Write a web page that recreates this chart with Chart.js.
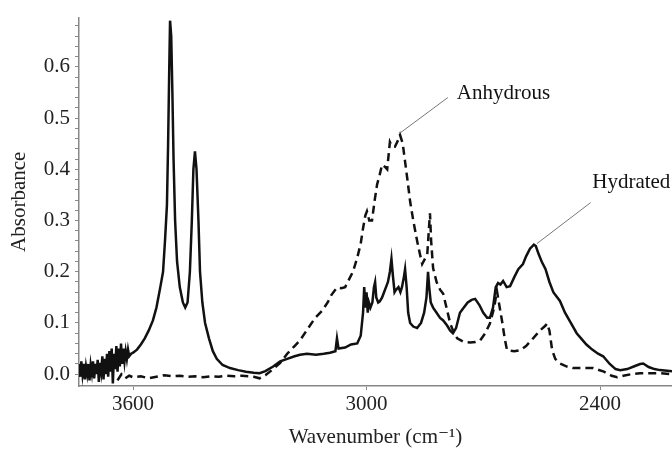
<!DOCTYPE html>
<html lang="en">
<head>
    <meta charset="UTF-8">
    <title>IR spectra - hydrated vs anhydrous</title>
    <style>
        html, body { margin: 0; padding: 0; background: #fff; }
        #wrap { width: 672px; height: 452px; position: relative; }
    </style>
    <script src="https://cdn.jsdelivr.net/npm/chart.js"></script>
</head>
<body>
<div id="wrap"><canvas id="spectrum" width="672" height="452"></canvas></div>

<script>
    // Hydrated (solid line)
    const hydratedWn = [3739, 3736, 3733, 3730, 3727, 3724, 3721, 3718, 3715, 3712, 3709, 3706, 3703, 3700, 3697, 3694, 3691, 3688, 3685, 3682,
        3679, 3676, 3673, 3670, 3667, 3664, 3661, 3658, 3655, 3652, 3649, 3646, 3643, 3640, 3637, 3634, 3631, 3628, 3625, 3622,
        3619, 3616, 3613, 3610, 3605, 3600, 3590, 3580, 3570, 3560, 3549, 3540,
        3530, 3523, 3518, 3513, 3510, 3507, 3505, 3502, 3499, 3496, 3492, 3487, 3480, 3472, 3466, 3460, 3454, 3449, 3445, 3441,
        3437, 3432, 3428, 3422, 3415, 3405, 3395, 3385, 3370, 3351, 3330, 3310, 3290, 3275, 3260, 3240, 3222, 3204, 3185, 3171,
        3153, 3130, 3110, 3094, 3080, 3076, 3072, 3055, 3040, 3024, 3015, 3009, 3006, 3003, 3000, 2997, 2994, 2990, 2985, 2981,
        2978, 2975, 2970, 2966, 2960, 2955, 2950, 2945, 2940, 2936, 2932, 2928, 2924, 2918, 2913, 2909, 2904, 2901, 2897, 2893,
        2888, 2880, 2870, 2860, 2852, 2846, 2842, 2839, 2835, 2829, 2820, 2811, 2803, 2793, 2785, 2778, 2770, 2760, 2750, 2740,
        2730, 2721, 2710, 2700, 2690, 2683, 2675, 2668, 2662, 2656, 2649, 2640, 2631, 2620, 2610, 2598, 2590, 2580, 2570, 2565,
        2558, 2550, 2540, 2530, 2520, 2503, 2490, 2475, 2460, 2451, 2435, 2420, 2405, 2392, 2375, 2360, 2348, 2330, 2310, 2297,
        2289, 2275, 2260, 2246, 2215];
    const hydratedAbs = [0.02, -0.005, 0.025, 0.0, 0.02, -0.01, 0.015, 0.0, 0.02, -0.012, 0.018, 0.002, 0.025, -0.008, 0.02, 0.0, 0.028, -0.015, 0.022, 0.005,
        0.035, -0.01, 0.03, 0.0, 0.04, -0.005, 0.045, 0.005, 0.05, -0.018, 0.04, 0.01, 0.055, 0.005, 0.05, 0.015, 0.06, 0.02, 0.05, 0.025,
        0.045, 0.03, 0.048, 0.035, 0.04, 0.042, 0.048, 0.058, 0.07, 0.085, 0.105, 0.13,
        0.17, 0.2, 0.26, 0.33, 0.45, 0.6, 0.69, 0.66, 0.55, 0.42, 0.3, 0.22, 0.17, 0.14, 0.13, 0.14, 0.2, 0.3, 0.4, 0.435,
        0.4, 0.3, 0.2, 0.14, 0.1, 0.07, 0.045, 0.03, 0.018, 0.012, 0.008, 0.005, 0.003, 0.002, 0.006, 0.015, 0.025, 0.03, 0.035, 0.038,
        0.04, 0.038, 0.04, 0.042, 0.045, 0.07, 0.05, 0.052, 0.058, 0.06, 0.075, 0.12, 0.17, 0.13, 0.16, 0.12, 0.14, 0.13, 0.14, 0.17,
        0.18, 0.15, 0.14, 0.142, 0.15, 0.16, 0.17, 0.18, 0.2, 0.225, 0.19, 0.16, 0.165, 0.17, 0.16, 0.17, 0.19, 0.205, 0.17, 0.12,
        0.1, 0.093, 0.09, 0.1, 0.12, 0.15, 0.2, 0.17, 0.14, 0.13, 0.12, 0.11, 0.105, 0.095, 0.085, 0.08, 0.09, 0.12, 0.13, 0.14,
        0.145, 0.147, 0.135, 0.12, 0.11, 0.11, 0.13, 0.17, 0.178, 0.175, 0.182, 0.17, 0.172, 0.19, 0.205, 0.215, 0.23, 0.245, 0.253, 0.25,
        0.235, 0.22, 0.205, 0.18, 0.16, 0.143, 0.12, 0.1, 0.08, 0.072, 0.058, 0.048, 0.04, 0.035, 0.02, 0.01, 0.008, 0.01, 0.016, 0.02,
        0.021, 0.014, 0.01, 0.008, 0.006];

    // Anhydrous (dashed line)
    const anhydrousWn = [3640, 3630, 3620, 3610, 3600, 3580, 3560, 3540, 3520, 3500, 3480, 3460, 3440, 3420, 3400,
        3380, 3360, 3340, 3320, 3300, 3290, 3275, 3260, 3240, 3222, 3204, 3185, 3171, 3150, 3132, 3114, 3100, 3090, 3076, 3065,
        3055, 3045, 3035, 3024, 3015, 3009, 3003, 2999, 2993, 2986, 2979, 2973, 2966, 2960, 2953, 2947, 2940, 2935, 2927, 2920,
        2914, 2907, 2901, 2895, 2888, 2880, 2870, 2863, 2857, 2850, 2844, 2840, 2837, 2834, 2829, 2820, 2811, 2803, 2793, 2785,
        2775, 2767, 2750, 2734, 2720, 2708, 2695, 2683, 2672, 2665, 2660, 2652, 2645, 2639, 2620, 2605, 2590, 2572, 2555, 2540,
        2536, 2530, 2523, 2515, 2503, 2485, 2469, 2440, 2418, 2390, 2370, 2356, 2340, 2320, 2297, 2270, 2246, 2215];
    const anhydrousAbs = [-0.012, 0.0, -0.008, -0.003, -0.006, -0.004, -0.008, -0.005, -0.002, -0.004, -0.003, -0.005, -0.004, -0.006, -0.004,
        -0.005, -0.003, -0.004, -0.003, -0.004, -0.005, -0.008, -0.002, 0.01, 0.022, 0.04, 0.055, 0.066, 0.09, 0.11, 0.124, 0.14, 0.155, 0.169, 0.168,
        0.17, 0.185, 0.2, 0.227, 0.255, 0.285, 0.31, 0.318, 0.3, 0.3, 0.34, 0.37, 0.39, 0.409, 0.405, 0.4, 0.453, 0.445, 0.444, 0.455,
        0.467, 0.45, 0.415, 0.38, 0.337, 0.3, 0.26, 0.235, 0.215, 0.225, 0.234, 0.28, 0.314, 0.26, 0.207, 0.18, 0.165, 0.157, 0.125, 0.099,
        0.08, 0.07, 0.063, 0.062, 0.063, 0.066, 0.08, 0.099, 0.13, 0.163, 0.14, 0.105, 0.07, 0.047, 0.045, 0.047, 0.055, 0.07, 0.085, 0.095,
        0.099, 0.085, 0.047, 0.03, 0.021, 0.015, 0.012, 0.012, 0.012, 0.005, -0.003, -0.006, -0.003, 0.0, 0.002, 0.002, 0.002, 0.0];

    const xTickValues = [3600, 3000, 2400];
    const yTickValues = [0, 0.02, 0.04, 0.06, 0.08, 0.1, 0.12, 0.14, 0.16, 0.18, 0.2, 0.22, 0.24, 0.26, 0.28, 0.3, 0.32, 0.34,
        0.36, 0.38, 0.4, 0.42, 0.44, 0.46, 0.48, 0.5, 0.52, 0.54, 0.56, 0.58, 0.6, 0.62, 0.64, 0.66, 0.68];

    // callout labels: text anchor and leader line, in data units
    const callouts = [
        { text: 'Anhydrous', textAt: [2768, 0.547], from: [2791, 0.54], to: [2917, 0.469] },
        { text: 'Hydrated', textAt: [2420, 0.375], from: [2424, 0.335], to: [2562, 0.255] }
    ];

    const serif = '"Liberation Serif", "DejaVu Serif", serif';

    const calloutPlugin = {
        id: 'callouts',
        afterDatasetsDraw(chart) {
            const ctx = chart.ctx;
            const xs = chart.scales.x, ys = chart.scales.y;
            ctx.save();
            ctx.strokeStyle = '#777';
            ctx.lineWidth = 1;
            ctx.fillStyle = '#111';
            ctx.font = '21px ' + serif;
            ctx.textBaseline = 'middle';
            ctx.textAlign = 'left';
            callouts.forEach(c => {
                ctx.beginPath();
                ctx.moveTo(xs.getPixelForValue(c.from[0]), ys.getPixelForValue(c.from[1]));
                ctx.lineTo(xs.getPixelForValue(c.to[0]), ys.getPixelForValue(c.to[1]));
                ctx.stroke();
                ctx.fillText(c.text, xs.getPixelForValue(c.textAt[0]), ys.getPixelForValue(c.textAt[1]));
            });
            ctx.restore();
        }
    };

    const toPoints = (xv, yv) => xv.map((x, i) => ({ x: x, y: yv[i] }));

    new Chart(document.getElementById('spectrum'), {
        type: 'line',
        data: {
            datasets: [
                {
                    label: 'Hydrated',
                    data: toPoints(hydratedWn, hydratedAbs),
                    borderColor: '#111',
                    borderWidth: 2.5,
                    pointRadius: 0,
                    tension: 0
                },
                {
                    label: 'Anhydrous',
                    data: toPoints(anhydrousWn, anhydrousAbs),
                    borderColor: '#111',
                    borderWidth: 2.5,
                    borderDash: [8, 5],
                    pointRadius: 0,
                    tension: 0
                }
            ]
        },
        options: {
            responsive: false,
            animation: false,
            layout: { padding: { top: 15, right: 0, left: 0, bottom: 0 } },
            plugins: {
                legend: { display: false },
                tooltip: { enabled: false }
            },
            scales: {
                x: {
                    type: 'linear',
                    reverse: true,
                    min: 2215,
                    max: 3739,
                    afterBuildTicks: s => { s.ticks = xTickValues.map(v => ({ value: v })); },
                    afterFit: s => { s.height = 66; },
                    grid: { drawOnChartArea: false, drawTicks: true, tickLength: 4, color: '#888' },
                    border: { display: true, color: '#888', width: 1.5 },
                    ticks: {
                        color: '#222',
                        font: { family: serif, size: 21 },
                        padding: 2,
                        maxRotation: 0,
                        callback: v => String(v)
                    },
                    title: {
                        display: true,
                        text: 'Wavenumber (cm\u207B\u00B9)',
                        color: '#222',
                        font: { family: serif, size: 21 },
                        padding: { top: 0, bottom: 2 }
                    }
                },
                y: {
                    min: -0.023,
                    max: 0.696,
                    afterBuildTicks: s => { s.ticks = yTickValues.map(v => ({ value: v })); },
                    afterFit: s => { s.width = 79; },
                    grid: { drawOnChartArea: false, drawTicks: true, tickLength: 4, color: '#888' },
                    border: { display: true, color: '#888', width: 1.5 },
                    ticks: {
                        color: '#222',
                        font: { family: serif, size: 21 },
                        padding: 5,
                        autoSkip: false,
                        callback: v => {
                            const r = Math.round(v * 10);
                            return Math.abs(v * 10 - r) < 1e-6 ? (r / 10).toFixed(1) : '';
                        }
                    },
                    title: {
                        display: true,
                        text: 'Absorbance',
                        color: '#222',
                        font: { family: serif, size: 21 },
                        padding: { top: 7, bottom: 0 }
                    }
                }
            }
        },
        plugins: [calloutPlugin]
    });
</script>
</body>
</html>
